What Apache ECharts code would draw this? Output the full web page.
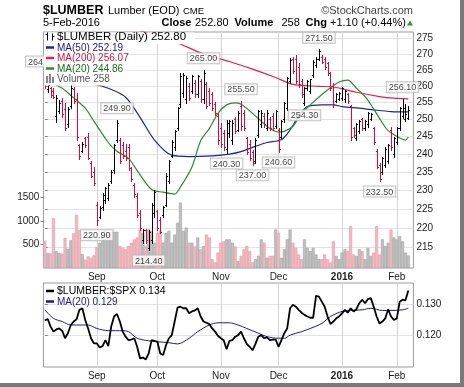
<!DOCTYPE html>
<html><head><meta charset="utf-8">
<script src="https://cdn.jsdelivr.net/npm/echarts@6/dist/echarts.min.js"></script>
<style>html,body{margin:0;padding:0;background:#fff}#c{width:464px;height:387px}</style>
</head><body><div id="c"></div>
<script>
// ---- data ----
const monthTicks  = [18, 39, 61, 81, 103, 122];
const monthLabels = ['Sep', 'Oct', 'Nov', 'Dec', '2016', 'Feb'];
const priceTicks  = [215, 220, 225, 230, 235, 240, 245, 250, 255, 260, 265, 270, 275];
const volumeTicks = [500, 1000, 1500];
const ratioTicks  = [0.12, 0.13];

const opens = [263.0,259.0,259.5,258.5,251.0,252.5,255.5,253.0,248.5,254.0,
259.0,256.0,242.5,241.0,244.5,245.0,237.5,235.0,226.0,223.0,
225.5,227.5,228.0,232.5,235.5,244.0,244.0,242.5,241.0,242.0,
236.0,231.5,228.5,224.0,217.0,219.5,215.0,217.0,224.0,224.5,
222.0,223.5,226.0,232.5,239.5,242.0,247.5,254.5,258.0,256.0,
260.0,258.5,261.0,257.5,261.5,256.0,260.5,258.5,257.5,254.5,
251.0,247.5,246.0,241.5,246.0,244.0,250.0,247.0,254.0,252.0,
244.5,243.0,240.5,238.0,245.5,248.5,251.0,247.5,250.0,251.0,
248.0,247.0,245.0,250.0,253.5,261.5,268.5,268.5,266.0,261.5,
255.0,259.5,258.5,263.5,266.5,268.5,269.0,268.5,267.0,264.0,
260.0,255.5,256.0,256.5,256.0,257.5,254.0,247.5,244.5,246.5,
250.0,247.5,248.5,250.0,247.5,241.0,237.0,235.0,237.0,238.0,
247.0,240.0,243.5,247.5,251.0,250.0,250.5];
const highs = [264.0,260.5,259.8,259.3,257.3,255.8,256.3,254.8,253.8,260.3,
259.8,257.8,243.0,243.5,245.0,245.9,238.0,236.5,226.8,225.7,
229.2,231.0,231.9,235.6,243.0,249.9,244.5,243.5,243.0,243.0,
236.5,231.9,229.2,224.8,219.9,219.9,219.5,226.5,230.1,224.8,
223.0,225.7,234.6,238.4,244.0,246.9,253.8,264.0,264.0,263.0,
260.8,263.5,261.8,263.5,262.3,265.0,261.3,259.3,258.3,255.3,
251.8,248.8,246.9,249.8,249.8,249.8,250.8,252.5,255.5,252.8,
245.0,244.0,241.1,244.5,252.8,252.8,251.8,252.8,250.8,251.8,
252.8,247.5,249.8,255.3,262.8,268.6,269.1,269.6,267.0,262.3,
259.8,261.8,262.3,268.0,269.1,271.5,269.6,269.1,267.5,264.4,
260.8,257.8,258.3,259.8,258.8,257.8,254.3,247.9,248.8,249.8,
250.3,249.8,252.3,251.8,247.9,241.5,237.4,239.2,242.1,243.0,
247.9,245.0,247.9,253.8,256.1,254.5,254.0];
const lows = [259.5,258.3,256.8,256.3,249.3,251.8,250.8,246.9,247.9,253.3,
254.8,244.0,238.6,240.6,242.1,238.6,233.5,231.5,220.9,222.6,
224.8,226.5,227.4,231.9,234.6,243.5,237.4,238.8,238.4,235.5,
232.4,228.3,223.0,219.5,216.3,216.3,214.4,216.3,223.0,219.5,
218.7,223.0,225.7,231.9,239.2,241.1,246.9,253.8,256.8,254.8,
255.8,257.8,256.8,256.8,255.3,254.8,253.3,254.3,252.8,251.3,
243.0,242.1,241.1,240.3,245.0,243.0,245.9,246.5,247.0,246.9,
240.1,238.4,237.0,237.5,245.0,247.9,247.9,246.9,246.9,246.9,
247.5,240.6,244.5,249.3,252.8,260.8,263.9,260.8,259.8,256.8,
254.3,258.8,257.8,262.8,266.0,268.0,267.0,265.4,263.5,258.8,
253.8,255.3,255.8,255.8,255.3,254.8,244.0,245.0,244.0,245.9,
246.9,246.9,247.9,249.8,243.0,236.0,232.5,234.5,236.5,237.4,
241.1,239.2,243.0,246.9,250.5,249.5,250.0];
const closes = [260.5,260.2,257.2,256.8,256.5,255.0,251.5,247.5,253.0,259.5,
255.5,245.0,239.5,243.0,242.5,239.0,234.0,232.0,222.0,225.2,
228.7,230.5,231.5,235.0,242.5,249.0,238.0,239.5,239.0,236.0,
233.0,229.0,223.5,220.0,219.5,217.0,219.0,226.0,229.5,220.0,
219.0,225.5,234.0,238.0,243.5,246.5,253.5,263.0,263.5,262.5,
256.5,263.0,257.5,263.0,256.0,264.0,254.0,255.0,253.5,252.0,
244.0,243.0,242.0,249.0,249.5,249.0,246.5,252.0,248.0,247.5,
240.5,239.0,237.5,244.0,252.5,252.0,248.5,252.0,247.5,247.5,
252.5,241.5,249.5,255.0,262.5,268.0,264.5,261.5,260.5,257.5,
259.5,261.5,262.0,267.5,268.5,271.0,267.5,266.0,264.0,259.5,
254.5,257.5,258.0,259.5,258.5,255.5,245.0,245.5,248.5,249.5,
247.5,249.5,252.0,251.5,243.5,236.5,233.0,239.0,241.5,242.5,
242.0,244.5,247.5,253.5,253.5,251.7,252.8];
// 1 = up day (black bar, grey volume), 0 = down day (red bar, pink volume)
const upDown = [0,1,0,0,1,1,0,0,1,1,
0,0,0,1,0,0,0,0,0,1,
1,1,1,1,1,1,0,0,0,0,
0,0,0,0,1,0,1,1,1,0,
0,1,1,1,1,1,1,1,1,1,
0,1,0,1,0,1,0,0,0,0,
0,0,0,1,1,1,0,1,0,0,
0,0,0,1,1,1,0,1,0,0,
1,0,1,1,1,1,0,0,0,0,
1,1,1,1,1,1,0,0,0,0,
0,1,1,1,1,0,0,0,1,1,
0,1,1,1,0,0,0,1,1,1,
0,1,1,1,1,1,1];
const volumes = [570,310,300,1050,350,310,300,630,400,580,
730,1120,800,290,170,240,210,260,430,530,
700,780,680,760,760,760,460,420,390,460,
530,600,640,810,740,460,810,780,530,740,
780,530,740,780,530,700,950,1380,780,850,
530,530,450,640,390,460,700,640,180,110,
320,530,560,600,600,530,450,140,250,390,
460,350,110,180,250,600,530,210,250,250,
810,740,210,390,600,810,530,420,280,180,
600,420,350,420,280,180,180,280,180,110,
560,250,180,320,390,350,880,280,250,390,
350,180,420,250,320,880,280,600,460,530,
810,640,600,670,560,320,258];

const ma50 = [[0,264.5],[8,262.8],[15,261.0],[22,259.3],[28,256.6],[33,250.6],[38,244.0],[44,239.7],[50,239.3],[58,239.5],[64,240.0],[68,240.7],[73,242.2],[77,243.3],[82,244.1],[85,246.9],[88,251.0],[91,253.8],[96,254.3],[100,254.3],[103,253.8],[109,253.3],[114,252.8],[120,252.3],[126,252.19]];
const ma200 = [[20,281.0],[35,276.9],[45,273.9],[55,270.0],[64,267.6],[72,265.2],[80,262.6],[86,260.5],[95,259.9],[100,259.7],[108,258.1],[116,256.8],[121,256.3],[126,256.07]];
const ma20 = [[0,262.0],[6,259.3],[10,256.4],[14,253.3],[17,249.5],[22,243.3],[25,240.8],[29,238.8],[32,235.4],[37,230.2],[41,229.5],[45,229.0],[47,230.9],[51,236.4],[54,243.8],[57,247.3],[60,251.8],[63,254.3],[66,254.9],[68,254.5],[71,252.5],[75,249.5],[78,247.3],[81,246.3],[83,246.5],[86,248.0],[89,251.8],[92,254.3],[97,258.1],[102,261.2],[105,261.8],[108,259.3],[111,256.8],[113,254.4],[116,250.3],[119,246.7],[123,244.6],[125,244.0],[126,244.86]];

const ratio = [0.1248,0.1253,0.1229,0.1213,0.1220,0.1223,0.1216,0.1192,0.1208,0.1234,
0.1245,0.1252,0.1282,0.1287,0.1250,0.1223,0.1192,0.1176,0.1176,0.1163,
0.1167,0.1186,0.1167,0.1229,0.1261,0.1269,0.1245,0.1213,0.1197,0.1186,
0.1188,0.1192,0.1165,0.1128,0.1131,0.1125,0.1144,0.1186,0.1184,0.1181,
0.1144,0.1139,0.1170,0.1192,0.1202,0.1245,0.1289,0.1292,0.1287,0.1287,
0.1271,0.1277,0.1280,0.1287,0.1261,0.1245,0.1241,0.1237,0.1223,0.1213,
0.1200,0.1192,0.1186,0.1157,0.1184,0.1186,0.1197,0.1202,0.1213,0.1192,
0.1174,0.1165,0.1154,0.1174,0.1197,0.1202,0.1192,0.1195,0.1186,0.1188,
0.1188,0.1165,0.1186,0.1208,0.1223,0.1287,0.1298,0.1292,0.1282,0.1273,
0.1266,0.1261,0.1257,0.1257,0.1326,0.1324,0.1308,0.1292,0.1261,0.1237,
0.1245,0.1255,0.1261,0.1271,0.1282,0.1273,0.1287,0.1277,0.1284,0.1303,
0.1314,0.1303,0.1316,0.1319,0.1292,0.1261,0.1239,0.1245,0.1255,0.1284,
0.1261,0.1250,0.1255,0.1308,0.1314,0.1312,0.1343];
const ratioMa20 = [[0,0.1282],[3,0.1255],[6,0.1245],[9,0.1234],[13,0.1234],[15,0.1234],[18,0.1223],[22,0.1216],[27,0.1216],[29,0.1213],[32,0.1192],[36,0.1184],[39,0.1181],[43,0.1178],[46,0.1174],[50,0.1192],[53,0.1213],[57,0.1234],[60,0.1241],[64,0.1241],[67,0.1234],[70,0.1223],[74,0.1208],[77,0.1197],[81,0.1192],[83,0.1192],[85,0.1202],[89,0.1213],[92,0.1223],[96,0.1239],[99,0.1261],[103,0.1277],[106,0.1280],[110,0.1282],[113,0.1287],[117,0.1280],[120,0.1280],[124,0.1282],[126,0.1287]];

const highMarks = [[0,264.0,'264.50'],[25,249.9,'249.90'],[55,265.0,'265.00'],[68,255.5,'255.50'],[95,271.5,'271.50'],[124,256.1,'256.10']];
const lowMarks  = [[18,220.9,'220.90'],[36,214.4,'214.40'],[63,240.3,'240.30'],[72,237.0,'237.00'],[81,240.6,'240.60'],[90,254.3,'254.30'],[116,232.5,'232.50']];

// ---- chart ----
const FONT = '"Liberation Sans", Arial, sans-serif';
const RED = '#dc0a3c', BLACK = '#000';
const C50 = '#1c2796', C200 = '#e41f4d', C20 = '#2f8a2f';

const ohlcData = opens.map((o, i) => [i, o, highs[i], lows[i], closes[i], upDown[i]]);
const volData = volumes.map((v, i) => [i, v, upDown[i]]);
const ratioData = ratio.map((v, i) => [i, v]);

function renderOHLC(params, api) {
  const i = api.value(0);
  const pH = api.coord([i, api.value(2)]), pL = api.coord([i, api.value(3)]);
  const pO = api.coord([i, api.value(1)]), pC = api.coord([i, api.value(4)]);
  const col = api.value(5) ? BLACK : RED;
  const x = Math.round(pH[0]) + 0.5;
  const yo = Math.round(pO[1]) + 0.5, yc = Math.round(pC[1]) + 0.5;
  const st = {stroke: col, lineWidth: 1};
  return {type: 'group', children: [
    {type: 'line', shape: {x1: x, y1: Math.round(pH[1]), x2: x, y2: Math.round(pL[1]) + 1}, style: st},
    {type: 'line', shape: {x1: x - 1.5, y1: yo, x2: x, y2: yo}, style: st},
    {type: 'line', shape: {x1: x, y1: yc, x2: x + 1.5, y2: yc}, style: st}
  ]};
}
function renderVol(params, api) {
  const i = api.value(0);
  const top = api.coord([i, api.value(1)]), base = api.coord([i, 0]);
  const w = api.size([1, 0])[0] * 0.82;
  const up = api.value(2);
  return {type: 'rect', shape: {x: top[0] - w / 2, y: top[1], width: w, height: base[1] - top[1]},
    style: {fill: up ? '#c2c2c2' : '#f3b9c2', stroke: up ? '#a0a0a0' : '#e39aa6', lineWidth: 0.6}};
}
const monthFmt = v => {
  const k = monthTicks.indexOf(Math.round(v));
  if (k < 0) return '';
  return monthLabels[k] === '2016' ? '{b|2016}' : monthLabels[k];
};
const xAxisBase = (g) => ({
  type: 'value', gridIndex: g, min: -0.5, max: 127.75,
  axisLine: {show: false},
  axisTick: {show: false, customValues: monthTicks},
  axisLabel: {customValues: monthTicks, formatter: monthFmt, fontSize: 10, color: '#222', margin: 4, fontFamily: FONT,
    rich: {b: {fontWeight: 'bold', fontSize: 10, color: '#222', fontFamily: FONT}}},
  splitLine: {show: true, lineStyle: {color: '#d4d4d4', width: 1}}
});
const labelBox = {
  show: true, formatter: '{b}', fontSize: 9, color: '#111', fontFamily: FONT,
  backgroundColor: '#fff', borderColor: '#b4b4b4', borderWidth: 1, padding: [1, 2, 0, 2], lineHeight: 9
};

const gText = (x, y, text, opt) => Object.assign({
  type: 'text', x: x, y: y, z: 120,
  style: Object.assign({text: text, fill: '#000', font: '10px ' + FONT, verticalAlign: 'middle', align: 'left'}, opt || {})
});
const dash = (x, y, col) => ({type: 'line', z: 120, shape: {x1: x, y1: y, x2: x + 8, y2: y}, style: {stroke: col, lineWidth: 2.5}});

const graphic = [
  // outer frame shadow
  {type: 'rect', z: 130, shape: {x: 460, y: 0, width: 4, height: 387}, style: {fill: '#7a7a7a'}},
  {type: 'rect', z: 130, shape: {x: 0, y: 383, width: 464, height: 4}, style: {fill: '#7a7a7a'}},
  // header
  gText(43, 11, '$LUMBER', {font: 'bold 12.5px ' + FONT}),
  gText(108, 11, 'Lumber (EOD)', {font: '11px ' + FONT}),
  gText(183, 11.5, 'CME', {font: '9.5px ' + FONT}),
  gText(413, 11, '\u00A9StockCharts.com', {font: '11px ' + FONT, align: 'right', fill: '#444'}),
  gText(43, 23, '5-Feb-2016', {font: '11px ' + FONT}),
  gText(161.5, 23, 'Close', {font: 'bold 11px ' + FONT}),
  gText(195, 23, '252.80', {font: '11px ' + FONT}),
  gText(234.5, 23, 'Volume', {font: 'bold 11px ' + FONT}),
  gText(281.5, 23, '258', {font: '11px ' + FONT}),
  gText(305.5, 23, 'Chg', {font: 'bold 11px ' + FONT}),
  gText(330, 23, '+1.10 (+0.44%)', {font: '11px ' + FONT}),
  {type: 'polygon', z: 120, shape: {points: [[407, 25.5], [413, 25.5], [410, 20.5]]}, style: {fill: '#2e9a2e'}},
  // main legend background
  {type: 'rect', z: 110, shape: {x: 44, y: 32.5, width: 151, height: 11.5}, style: {fill: '#fff'}},
  {type: 'rect', z: 110, shape: {x: 44, y: 43.5, width: 83, height: 42}, style: {fill: '#fff'}},
  // ohlc icon
  {type: 'line', z: 120, shape: {x1: 47.5, y1: 32.5, x2: 47.5, y2: 40.5}, style: {stroke: '#000', lineWidth: 1}},
  {type: 'line', z: 120, shape: {x1: 45.5, y1: 34.5, x2: 47.5, y2: 34.5}, style: {stroke: '#000', lineWidth: 1}},
  {type: 'line', z: 120, shape: {x1: 52.5, y1: 33.5, x2: 52.5, y2: 40.5}, style: {stroke: '#000', lineWidth: 1}},
  {type: 'line', z: 120, shape: {x1: 52.5, y1: 36.5, x2: 54.5, y2: 36.5}, style: {stroke: '#000', lineWidth: 1}},
  gText(57, 37, '$LUMBER (Daily) 252.80', {font: '11.5px ' + FONT}),
  dash(46, 47.5, C50), gText(57, 48, 'MA(50) 252.19', {fill: '#1a1a8a'}),
  dash(46, 58, C200), gText(57, 58.5, 'MA(200) 256.07', {fill: '#d0103a'}),
  dash(46, 68.5, C20), gText(57, 69, 'MA(20) 244.86', {fill: '#1c6e1c'}),
  {type: 'rect', z: 120, shape: {x: 46, y: 76, width: 2, height: 7}, style: {fill: '#888'}},
  {type: 'rect', z: 120, shape: {x: 49, y: 74, width: 2, height: 9}, style: {fill: '#888'}},
  {type: 'rect', z: 120, shape: {x: 52, y: 77, width: 2, height: 6}, style: {fill: '#888'}},
  gText(57, 79.5, 'Volume 258', {fill: '#555'}),
  // lower legend
  dash(46, 291, '#000'), gText(57, 291.5, '$LUMBER:$SPX 0.134', {font: '10.5px ' + FONT}),
  dash(46, 301.5, '#1a1a8a'), gText(57, 302, 'MA(20) 0.129', {fill: '#1a1a8a'})
];

const option = {
  animation: false,
  backgroundColor: '#fff',
  textStyle: {fontFamily: FONT},
  grid: [
    {left: 43.4, top: 32, width: 370, height: 236, show: true, borderColor: '#9a9a9a', borderWidth: 1, backgroundColor: '#fff'},
    {left: 43.4, top: 283, width: 370, height: 84, show: true, borderColor: '#9a9a9a', borderWidth: 1, backgroundColor: '#fff'}
  ],
  xAxis: [xAxisBase(0), xAxisBase(1)],
  yAxis: [
    {type: 'log', logBase: 10, gridIndex: 0, position: 'right', min: 209.93, max: 277.04,
      axisLine: {show: false},
      axisTick: {show: true, length: 3, customValues: priceTicks, lineStyle: {color: '#888'}},
      axisLabel: {customValues: priceTicks, fontSize: 10, color: '#222', margin: 3, fontFamily: FONT},
      splitLine: {show: true, lineStyle: {color: '#e3e3e3'}}},
    {type: 'value', gridIndex: 0, position: 'left', min: 0, max: 5000,
      axisLine: {show: false},
      axisTick: {show: true, length: 3, customValues: volumeTicks, lineStyle: {color: '#888'}},
      axisLabel: {customValues: volumeTicks, formatter: v => String(v), fontSize: 10, color: '#222', margin: 4, fontFamily: FONT},
      splitLine: {show: false}},
    {type: 'value', gridIndex: 1, position: 'right', min: 0.1101, max: 0.1367,
      axisLine: {show: false},
      axisTick: {show: true, length: 3, customValues: ratioTicks, lineStyle: {color: '#888'}},
      axisLabel: {customValues: ratioTicks, formatter: v => v.toFixed(3), fontSize: 10, color: '#222', margin: 3, fontFamily: FONT},
      splitLine: {show: true, lineStyle: {color: '#e3e3e3'}}}
  ],
  series: [
    {type: 'custom', xAxisIndex: 0, yAxisIndex: 1, data: volData, renderItem: renderVol, encode: {x: 0, y: 1}, clip: true, z: 1, silent: true},
    {type: 'line', xAxisIndex: 0, yAxisIndex: 0, data: ma200, showSymbol: false, smooth: 0.3, clip: true, lineStyle: {color: C200, width: 1.2}, z: 3, silent: true},
    {type: 'line', xAxisIndex: 0, yAxisIndex: 0, data: ma50, showSymbol: false, smooth: 0.3, clip: true, lineStyle: {color: C50, width: 1.2}, z: 3, silent: true},
    {type: 'line', xAxisIndex: 0, yAxisIndex: 0, data: ma20, showSymbol: false, smooth: 0.3, clip: true, lineStyle: {color: C20, width: 1.2}, z: 3, silent: true},
    {type: 'custom', xAxisIndex: 0, yAxisIndex: 0, data: ohlcData, renderItem: renderOHLC, encode: {x: 0, y: [1, 2, 3, 4]}, clip: true, z: 4, silent: true},
    {type: 'scatter', xAxisIndex: 0, yAxisIndex: 0, symbol: 'circle', symbolSize: 1, itemStyle: {color: 'rgba(0,0,0,0)'}, z: 6, silent: true,
      data: highMarks.map((m, k) => ({value: [m[0], m[1]], name: m[2], label: k === 0 ? {offset: [-3, 0]} : {}})),
      label: Object.assign({position: 'top', distance: 6}, labelBox)},
    {type: 'scatter', xAxisIndex: 0, yAxisIndex: 0, symbol: 'circle', symbolSize: 1, itemStyle: {color: 'rgba(0,0,0,0)'}, z: 6, silent: true,
      data: lowMarks.map(m => ({value: [m[0], m[1]], name: m[2]})),
      label: Object.assign({position: 'bottom', distance: 5}, labelBox)},
    {type: 'line', xAxisIndex: 1, yAxisIndex: 2, data: ratioData, showSymbol: false, clip: true, lineStyle: {color: '#000', width: 1.8}, z: 4, silent: true},
    {type: 'line', xAxisIndex: 1, yAxisIndex: 2, data: ratioMa20, showSymbol: false, smooth: 0.3, clip: true, lineStyle: {color: '#1a1a9a', width: 1}, z: 3, silent: true}
  ],
  graphic: graphic
};
const chart = echarts.init(document.getElementById('c'), null, {renderer: 'canvas'});
chart.setOption(option);
</script></body></html>
